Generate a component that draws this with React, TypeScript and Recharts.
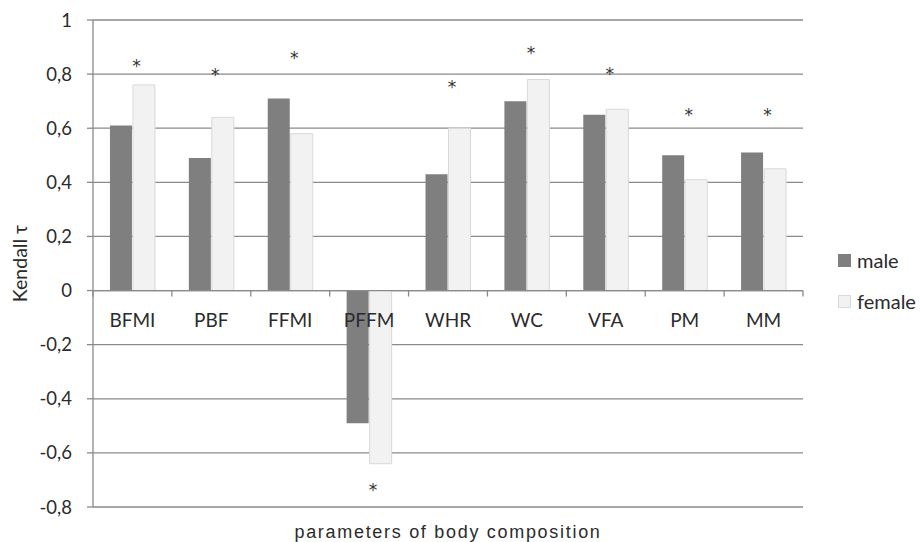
import React from "react";
import {
  ComposedChart,
  Bar,
  Scatter,
  XAxis,
  YAxis,
  CartesianGrid,
  ReferenceLine,
  Label,
} from "recharts";

const categories = ["BFMI", "PBF", "FFMI", "PFFM", "WHR", "WC", "VFA", "PM", "MM"];
const maleValues = [0.61, 0.49, 0.71, -0.49, 0.43, 0.7, 0.65, 0.5, 0.51];
const femaleValues = [0.76, 0.64, 0.58, -0.64, 0.6, 0.78, 0.67, 0.41, 0.45];
const starValues = [0.84, 0.806, 0.872, -0.725, 0.765, 0.89, 0.81, 0.66, 0.66];
const yTicks = [-0.8, -0.6, -0.4, -0.2, 0, 0.2, 0.4, 0.6, 0.8, 1];
const seriesNames = ["male", "female"];
const Y_MIN = -0.8;
const Y_MAX = 1;

const data = categories.map((c, i) => ({
  cat: c,
  male: maleValues[i],
  female: femaleValues[i],
  star: starValues[i],
}));

const W = 921;
const H = 542;
const M = { top: 20, right: 118, bottom: 0, left: 0 };
const X_AXIS_H = 35;
const Y_AXIS_W = 93;
const PLOT_TOP = M.top;
const PLOT_H = H - M.top - M.bottom - X_AXIS_H;
const PLOT_W = W - M.left - M.right - Y_AXIS_W;
const BAND = PLOT_W / categories.length;
const ZERO_Y = PLOT_TOP + ((Y_MAX - 0) / (Y_MAX - Y_MIN)) * PLOT_H;

const AXIS_COLOR = "#8a8a8a";
const TEXT_COLOR = "#2b2b2b";
const MALE_COLOR = "#7f7f7f";
const FEMALE_COLOR = "#f2f2f2";
const FEMALE_STROKE = "#d9d9d9";
const FONT = "Lato, 'Open Sans', sans-serif";

const fmt = (v: number) => {
  const r = Math.round(v * 10) / 10;
  return String(r).replace(".", ",");
};

const CatTick = (props: any) => {
  const { x, payload, index } = props;
  const left = x - BAND / 2;
  const right = x + BAND / 2;
  return (
    <g>
      <line x1={left} x2={left} y1={ZERO_Y} y2={ZERO_Y + 6} stroke={AXIS_COLOR} strokeWidth={1.3} />
      {index === categories.length - 1 && (
        <line x1={right} x2={right} y1={ZERO_Y} y2={ZERO_Y + 6} stroke={AXIS_COLOR} strokeWidth={1.3} />
      )}
      <text
        x={x}
        y={ZERO_Y + 36}
        textAnchor="middle"
        fontSize={19}
        fontFamily={FONT}
        fill={TEXT_COLOR}
      >
        {payload.value}
      </text>
    </g>
  );
};

const StarShape = (props: any) => {
  const { cx, cy } = props;
  if (cx == null || cy == null) return null;
  return (
    <text
      x={cx + 4}
      y={cy + 9}
      textAnchor="middle"
      fontSize={17}
      fontFamily="'DejaVu Sans', sans-serif"
      fill="#333333"
    >
      *
    </text>
  );
};

export default function App() {
  return (
    <div style={{ position: "absolute", left: 0, top: 0, width: W, height: H, background: "#fff" }}>
      <ComposedChart
        width={W}
        height={H}
        data={data}
        margin={M}
        barCategoryGap="21.5%"
        barGap={1}
      >
        <CartesianGrid
          horizontal={true}
          vertical={false}
          stroke={AXIS_COLOR}
          strokeWidth={1.3}
        />
        <XAxis
          dataKey="cat"
          axisLine={false}
          tickLine={false}
          height={X_AXIS_H}
          tick={<CatTick />}
          interval={0}
        >
          <Label
            value="parameters of body composition"
            position="insideBottom"
            offset={4}
            style={{ fontFamily: "'Liberation Sans', Arial, sans-serif", fontSize: 18, fill: TEXT_COLOR, letterSpacing: 1.7 }}
          />
        </XAxis>
        <YAxis
          width={Y_AXIS_W}
          domain={[Y_MIN, Y_MAX]}
          ticks={yTicks}
          tickFormatter={fmt}
          axisLine={{ stroke: AXIS_COLOR, strokeWidth: 1.3 }}
          tickLine={{ stroke: AXIS_COLOR, strokeWidth: 1.3 }}
          tickSize={6}
          tickMargin={15}
          interval={0}
          tick={{ fontFamily: FONT, fontSize: 18.5, fill: TEXT_COLOR }}
        >
          <Label
            value="Kendall τ"
            angle={-90}
            position="insideLeft"
            offset={20}
            style={{ fontFamily: FONT, fontSize: 19.5, fill: TEXT_COLOR, textAnchor: "middle" }}
          />
        </YAxis>
        <ReferenceLine y={0} stroke={AXIS_COLOR} strokeWidth={1.3} />
        <Bar dataKey="male" fill={MALE_COLOR} isAnimationActive={false} />
        <Bar dataKey="female" fill={FEMALE_COLOR} stroke={FEMALE_STROKE} strokeWidth={1} isAnimationActive={false} />
        <Scatter dataKey="star" shape={<StarShape />} isAnimationActive={false} legendType="none" />
      </ComposedChart>
      <div
        style={{
          position: "absolute",
          left: 838,
          top: 248,
          fontFamily: FONT,
          fontSize: 20,
          color: TEXT_COLOR,
        }}
      >
        {seriesNames.map((name, i) => (
          <div
            key={name}
            style={{ display: "flex", alignItems: "center", height: 24, marginBottom: i === 0 ? 17 : 0 }}
          >
            <span
              style={{
                display: "inline-block",
                boxSizing: "border-box",
                width: 13,
                height: 13,
                background: i === 0 ? MALE_COLOR : FEMALE_COLOR,
                border: i === 0 ? "none" : `1px solid ${FEMALE_STROKE}`,
                marginRight: 6,
              }}
            />
            {name}
          </div>
        ))}
      </div>
    </div>
  );
}
